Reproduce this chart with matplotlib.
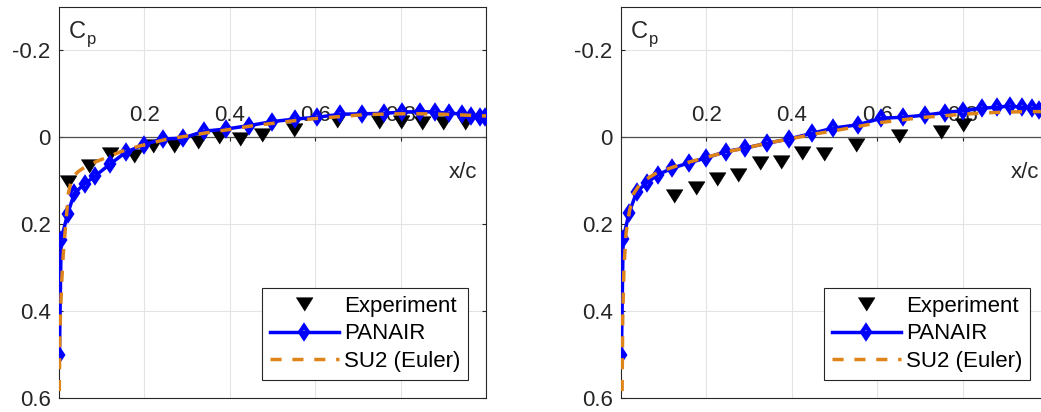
#!/usr/bin/env python3
"""
Surface pressure coefficient: experiment vs PANAIR vs SU2 (Euler), two stations.

Generates:
  out.png - side-by-side Cp(x/c) panels, inverted Cp axis
"""

import matplotlib
matplotlib.use('Agg')
import matplotlib.pyplot as plt

# ---- Data ----

# left panel
EXP_X_A = [0.02, 0.07, 0.12, 0.175, 0.22, 0.27, 0.325, 0.375, 0.425, 0.475,
           0.55, 0.65, 0.75, 0.80, 0.85, 0.90, 0.95]
EXP_CP_A = [0.105, 0.066, 0.040, 0.043, 0.020, 0.022, 0.012, 0.001, 0.004,
            -0.005, -0.016, -0.036, -0.033, -0.033, -0.032, -0.032, -0.032]

PAN_X_A = [0.001, 0.005, 0.02, 0.036, 0.06, 0.085, 0.119, 0.156, 0.198, 0.243,
           0.29, 0.34, 0.392, 0.446, 0.499, 0.553, 0.605, 0.658, 0.709, 0.76,
           0.803, 0.845, 0.88, 0.914, 0.943, 0.966, 0.986, 0.998]
PAN_CP_A = [0.503, 0.237, 0.178, 0.13, 0.108, 0.09, 0.063, 0.036, 0.018, 0.005,
            0.003, -0.013, -0.018, -0.026, -0.035, -0.041, -0.045, -0.052,
            -0.053, -0.054, -0.057, -0.058, -0.057, -0.054, -0.053, -0.048,
            -0.046, -0.045]

SU2_X_A = [0.0, 0.002, 0.006, 0.01, 0.015, 0.022, 0.03, 0.045, 0.06, 0.08,
           0.11, 0.145, 0.185, 0.25, 0.3, 0.35, 0.4, 0.45, 0.5, 0.55, 0.6,
           0.65, 0.7, 0.75, 0.8, 0.85, 0.9, 0.95, 1.0]
SU2_CP_A = [0.65, 0.45, 0.34, 0.27, 0.21, 0.13, 0.095, 0.08, 0.07, 0.06,
            0.048, 0.034, 0.022, 0.006, -0.002, -0.01, -0.017, -0.025, -0.031,
            -0.037, -0.042, -0.046, -0.05, -0.052, -0.053, -0.053, -0.052,
            -0.05, -0.048]

# right panel
EXP_X_B = [0.125, 0.175, 0.225, 0.275, 0.325, 0.375, 0.425, 0.475, 0.55,
           0.65, 0.75, 0.80]
EXP_CP_B = [0.137, 0.118, 0.097, 0.087, 0.060, 0.059, 0.038, 0.040, 0.018,
            -0.002, -0.010, -0.028]

PAN_X_B = [0.001, 0.005, 0.019, 0.037, 0.06, 0.087, 0.12, 0.159, 0.198, 0.245,
           0.29, 0.341, 0.393, 0.447, 0.497, 0.556, 0.61, 0.66, 0.712, 0.759,
           0.80, 0.845, 0.88, 0.91, 0.938, 0.962, 0.98, 0.995]
PAN_CP_B = [0.503, 0.235, 0.175, 0.126, 0.106, 0.087, 0.072, 0.06, 0.049,
            0.034, 0.026, 0.015, 0.005, -0.008, -0.02, -0.028, -0.043, -0.045,
            -0.05, -0.056, -0.06, -0.066, -0.068, -0.071, -0.068, -0.066,
            -0.062, -0.06]

SU2_X_B = [0.002, 0.004, 0.007, 0.012, 0.02, 0.03, 0.045, 0.06, 0.08, 0.1,
           0.13, 0.16, 0.2, 0.25, 0.3, 0.35, 0.4, 0.45, 0.5, 0.55, 0.6, 0.65,
           0.7, 0.75, 0.8, 0.85, 0.9, 0.95, 1.0]
SU2_CP_B = [0.65, 0.42, 0.3, 0.22, 0.17, 0.13, 0.108, 0.097, 0.085, 0.077,
            0.067, 0.058, 0.047, 0.034, 0.024, 0.013, 0.004, -0.006, -0.014,
            -0.023, -0.032, -0.038, -0.044, -0.048, -0.052, -0.055, -0.057,
            -0.058, -0.058]

XTICKS = [0.2, 0.4, 0.6, 0.8]
YTICKS = [-0.2, 0, 0.2, 0.4, 0.6]
YTICK_LABELS = ['-0.2', '0', '0.2', '0.4', '0.6']
LABELS = ['Experiment', 'PANAIR', 'SU2 (Euler)']

# ---- Style ----

FS = 16
INK = '#262626'
BLUE = '#0000FF'
ORANGE = '#DF8418'
GRID = '#E3E3E3'
# MATLAB-ish down triangle: wider than tall, bbox-centred
TRI = [(-1, 0.8), (1, 0.8), (0, -0.8)]

plt.rcParams['font.family'] = ['Liberation Sans', 'DejaVu Sans']
plt.rcParams['font.size'] = FS


def cp_panel(fig, rect, exp, pan, su2):
    ax = fig.add_axes(rect)
    ax.set_xlim(0, 1)
    ax.set_ylim(0.6, -0.3)  # Cp plotted negative-up

    ax.plot(*exp, ls='none', marker=TRI, ms=12, color='black', mew=0.5,
            label=LABELS[0], zorder=3)
    ax.plot(*pan, color=BLUE, lw=2.5, marker='d', ms=6.5, mfc='none',
            mew=3.0, label=LABELS[1], zorder=4)
    ax.plot(*su2, color=ORANGE, lw=2.5, dashes=(3.2, 3.1),
            label=LABELS[2], zorder=5)

    # frame + grid
    for sp in ax.spines.values():
        sp.set_color(INK)
        sp.set_linewidth(0.8)
    ax.set_xticks(XTICKS)
    ax.set_yticks(YTICKS)
    ax.set_yticklabels(YTICK_LABELS)
    ax.grid(True, color=GRID, lw=0.8)
    ax.tick_params(axis='x', bottom=False, top=False, labelbottom=False)
    ax.tick_params(axis='y', left=True, right=True, direction='in',
                   length=3, width=0.8, color=INK, labelcolor=INK,
                   labelsize=FS, pad=6)

    # x axis runs through Cp = 0, labels sit above it
    sec = ax.secondary_xaxis(0, transform=ax.transData)
    sec.set_alignment('top')
    sec.set_xticks(XTICKS)
    sec.spines['top'].set_color('#505050')
    sec.spines['top'].set_linewidth(0.9)
    sec.tick_params(direction='in', length=3, width=0.8, color=INK,
                    labelcolor=INK, labelsize=FS, pad=8)
    sec.set_zorder(1.8)

    # axis names, MATLAB-style inside the box
    ax.text(0.023, 0.919, 'C', transform=ax.transAxes, fontsize=FS + 1,
            color=INK, va='baseline', ha='left')
    ax.text(0.066, 0.905, 'p', transform=ax.transAxes, fontsize=FS - 4,
            color=INK, va='baseline', ha='left')
    ax.text(0.979, 0.562, 'x/c', transform=ax.transAxes, fontsize=FS,
            color=INK, va='baseline', ha='right')

    leg = ax.legend(loc='lower right', fontsize=FS, fancybox=False,
                    framealpha=1, edgecolor=INK, handlelength=3.1,
                    handletextpad=0.25, borderpad=0.35, labelspacing=0.3,
                    borderaxespad=0.8, numpoints=1)
    leg.get_frame().set_linewidth(0.8)
    return ax


def main():
    W, H = 1041, 412
    fig = plt.figure(figsize=(W / 100, H / 100), dpi=100)
    bot, hgt, wid = 14.5 / H, 391 / H, 427 / W
    cp_panel(fig, [59 / W, bot, wid, hgt],
             (EXP_X_A, EXP_CP_A), (PAN_X_A, PAN_CP_A), (SU2_X_A, SU2_CP_A))
    # right panel runs past the figure edge, as in the original export
    cp_panel(fig, [621 / W, bot, wid, hgt],
             (EXP_X_B, EXP_CP_B), (PAN_X_B, PAN_CP_B), (SU2_X_B, SU2_CP_B))
    fig.savefig('out.png', dpi=100)
    plt.close(fig)


if __name__ == '__main__':
    main()
